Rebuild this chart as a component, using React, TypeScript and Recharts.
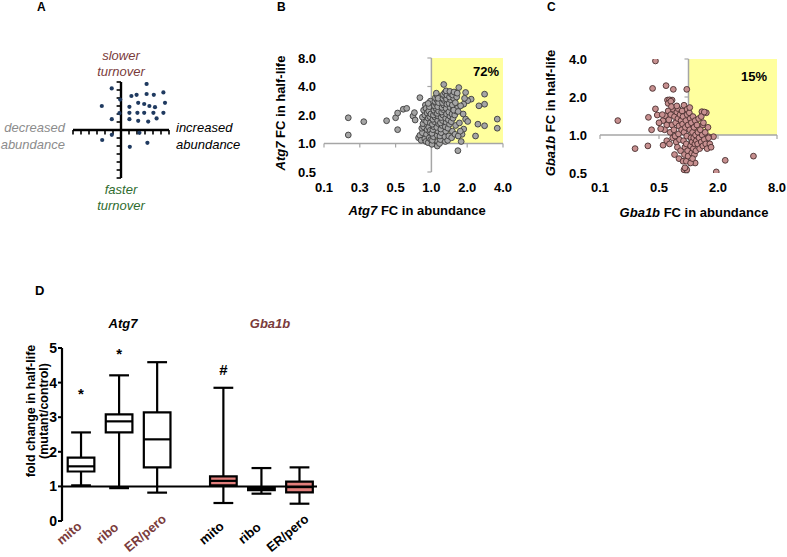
import React from 'react';
import { ScatterChart, Scatter, XAxis, YAxis, ReferenceLine, ReferenceArea, Label, Text } from 'recharts';

const FONT = "Arial, 'Liberation Sans', Helvetica, sans-serif";
const DARKRED = '#7A3B3B';
const GREEN = '#2E6B2E';
const W = 787;
const H = 557;

// ---------- Panel A (schematic) ----------
const A_POINTS: [number, number][] = [
  [-1.16, 5.2], [3.2, 5.75], [5.3, 4.7], [1.3, 4.25], [1.95, 4.4], [3.2, 4.5], [4.1, 4.4],
  [-0.1, 3.8], [-2.4, 3.0], [1.05, 2.9], [2.15, 3.4], [2.9, 3.25], [3.55, 3.0], [4.25, 2.85],
  [5.5, 3.4], [-0.2, 2.1], [1.05, 2.15], [2.05, 2.15], [2.9, 2.15], [4.05, 2.15], [5.3, 2.15],
  [-1.15, 1.35], [1.05, 1.35], [2.15, 1.15], [3.4, 1.05], [4.45, 1.45], [-2.35, -1.25],
  [-1.15, -0.6], [2.3, -0.35], [1.1, -2.1], [3.3, -1.6],
];
const A_TICKS = [-6, -5, -4, -3, -2, -1, 1, 2, 3, 4, 5, 6];

// ---------- Panel B (Atg7) ----------
const B_X_TICKS = [0.125, 0.25, 0.5, 1, 2, 4];
const B_Y_TICKS = [0.5, 1, 2, 4, 8];
const B_PERCENT = '72%';
const B_POINTS: [number, number][] = [
  [0.2, 1.87], [0.2, 1.23], [0.27, 1.7], [0.42, 1.74], [0.5, 1.87], [0.52, 2.1], [0.52, 1.4],
  [0.58, 2.3], [0.62, 2.35], [0.7, 1.95], [0.72, 2.12], [0.73, 1.77], [0.8, 3.05],
  [0.78, 1.15], [0.8, 1.22], [0.82, 1.08], [0.84, 1.3], [0.83, 1.45], [0.86, 1.5], [0.85, 1.62],
  [0.87, 1.78], [0.84, 1.9], [0.88, 2.0], [0.86, 2.25], [0.89, 2.55], [0.9, 2.35], [0.88, 1.12],
  [0.9, 1.05], [0.91, 1.25], [0.92, 1.4], [0.93, 1.55], [0.91, 1.7], [0.94, 1.85], [0.92, 2.1],
  [0.95, 2.2], [0.94, 1.02], [0.96, 1.15], [0.97, 1.32], [0.95, 1.48], [0.98, 1.65], [0.97, 1.92],
  [0.99, 2.05], [0.96, 2.45], [0.98, 2.8], [0.94, 2.65], [0.99, 1.1], [0.98, 1.38],
  [1.01, 0.98], [1.02, 1.08], [1.04, 1.18], [1.01, 1.28], [1.03, 1.4], [1.05, 1.5], [1.02, 1.6],
  [1.06, 1.7], [1.03, 1.8], [1.07, 1.9], [1.04, 2.0], [1.08, 2.12], [1.05, 2.25], [1.09, 2.35],
  [1.06, 2.5], [1.1, 2.62], [1.07, 2.78], [1.11, 2.9], [1.08, 3.05], [1.12, 3.2], [1.1, 3.4],
  [1.13, 1.05], [1.12, 1.22], [1.14, 1.35], [1.11, 1.48], [1.15, 1.62], [1.13, 1.75], [1.14, 1.95],
  [1.12, 2.08], [1.15, 2.2], [1.13, 2.45], [1.15, 2.7], [1.14, 3.0], [1.12, 0.94],
  [1.17, 1.0], [1.19, 1.1], [1.18, 1.2], [1.21, 1.3], [1.2, 1.42], [1.23, 1.55], [1.19, 1.65],
  [1.24, 1.75], [1.21, 1.88], [1.25, 2.0], [1.22, 2.15], [1.26, 2.28], [1.23, 2.4], [1.27, 2.55],
  [1.24, 2.7], [1.28, 2.85], [1.25, 3.0], [1.29, 3.15], [1.26, 3.3], [1.3, 3.45], [1.27, 4.2],
  [1.31, 1.05], [1.3, 1.18], [1.32, 1.35], [1.31, 1.5], [1.33, 1.68], [1.32, 1.85], [1.34, 2.05],
  [1.33, 2.35], [1.35, 2.6], [1.34, 2.95], [1.35, 3.25], [1.33, 3.6],
  [1.37, 1.08], [1.4, 1.2], [1.38, 1.45], [1.42, 1.6], [1.39, 1.78], [1.43, 1.95], [1.4, 2.15],
  [1.44, 2.4], [1.41, 2.65], [1.45, 2.9], [1.42, 3.1], [1.46, 3.35], [1.43, 3.55], [1.48, 1.15],
  [1.5, 1.35], [1.47, 1.7], [1.52, 1.85], [1.49, 2.05], [1.53, 2.3], [1.5, 2.55], [1.54, 3.0],
  [1.51, 3.25], [1.55, 3.5], [1.58, 1.25], [1.6, 1.55], [1.57, 2.0], [1.62, 2.2], [1.59, 2.7],
  [1.63, 3.1], [1.65, 3.4],
  [1.65, 2.36], [1.54, 2.25], [1.7, 3.9], [1.94, 3.46], [2.8, 3.32], [2.8, 2.6], [2.51, 2.5],
  [2.16, 2.94], [2.02, 2.83], [1.87, 2.6], [1.76, 2.5], [3.58, 1.81], [3.58, 1.45], [2.8, 1.54],
  [2.46, 1.6], [2.35, 1.2], [1.94, 1.81], [2.02, 1.71], [1.87, 1.42], [1.81, 1.25], [1.68, 2.18],
  [1.68, 1.2], [1.67, 0.84], [1.75, 1.35], [1.72, 1.65], [1.85, 2.05], [1.78, 1.05], [1.9, 3.0],
];

// ---------- Panel C (Gba1b) ----------
const C_X_TICKS = [0.125, 0.5, 2, 8];
const C_Y_TICKS = [0.5, 1, 2, 4];
const C_PERCENT = '15%';
const C_POINTS: [number, number][] = [
  [0.46, 3.86], [0.43, 2.34], [0.59, 2.46], [0.7, 2.3], [0.96, 2.3], [0.19, 1.3], [0.39, 1.38],
  [0.46, 1.61], [0.42, 1.1], [0.285, 0.78], [0.385, 0.82], [0.55, 0.83], [0.61, 1.89], [0.64, 1.9],
  [0.68, 1.89], [2.37, 0.63], [4.6, 0.68], [1.92, 0.51], [0.9, 0.53], [0.96, 0.53], [1.17, 0.6],
  [1.8, 0.97], [1.6, 0.97], [1.37, 1.53], [1.4, 1.2], [1.57, 0.81], [0.48, 1.44],
  [0.55, 1.3], [0.58, 1.42], [0.6, 1.2], [0.62, 1.55], [0.57, 1.1], [0.63, 1.32], [0.65, 1.05],
  [0.6, 0.9], [0.66, 1.45], [0.68, 1.2], [0.62, 1.78], [0.66, 1.85], [0.7, 1.6], [0.64, 0.85],
  [0.69, 0.95], [0.52, 1.12], [0.54, 1.45], [0.5, 1.25], [0.67, 1.68],
  [0.72, 1.4], [0.74, 1.25], [0.71, 1.1], [0.76, 1.52], [0.73, 0.98], [0.78, 1.35], [0.75, 0.88],
  [0.8, 1.18], [0.77, 0.8], [0.82, 1.45], [0.79, 1.02], [0.84, 1.3], [0.81, 0.92], [0.83, 0.75],
  [0.78, 1.62], [0.72, 0.7], [0.85, 1.1], [0.76, 1.7], [0.8, 0.65],
  [0.86, 1.55], [0.88, 1.4], [0.87, 1.22], [0.9, 1.05], [0.89, 0.9], [0.92, 0.8], [0.91, 0.7],
  [0.94, 1.3], [0.93, 1.15], [0.96, 0.98], [0.95, 0.85], [0.98, 0.75], [0.97, 1.45], [0.99, 1.2],
  [0.88, 0.62], [0.92, 0.55], [0.95, 0.62], [0.99, 0.68], [0.9, 1.72], [0.97, 1.6],
  [1.02, 1.5], [1.04, 1.35], [1.03, 1.1], [1.06, 0.95], [1.05, 0.82], [1.08, 0.72], [1.07, 1.25],
  [1.1, 1.05], [1.09, 0.88], [1.12, 0.78], [1.11, 1.4], [1.14, 1.15], [1.13, 0.95], [1.16, 0.85],
  [1.15, 0.7], [1.18, 1.0], [1.17, 1.3], [1.2, 0.9], [1.19, 0.75], [1.05, 0.6], [1.1, 0.65],
  [1.03, 1.65],
  [1.22, 1.2], [1.25, 1.05], [1.24, 0.85], [1.28, 0.95], [1.3, 0.78], [1.27, 1.35], [1.32, 1.1],
  [1.35, 0.88], [1.38, 1.0], [1.4, 0.82], [1.45, 0.92], [1.42, 1.25], [1.5, 0.85], [1.48, 1.05],
  [1.55, 0.78], [1.52, 1.5], [1.6, 0.95], [1.65, 0.85], [1.7, 0.8], [1.35, 1.4], [1.45, 1.52],
  [1.58, 1.15],
];

// ---------- Panel D (box plots) ----------
const D_POS = [1, 2, 3, 4.74, 5.74, 6.74];
const D_LABELS = ['mito', 'ribo', 'ER/pero', 'mito', 'ribo', 'ER/pero'];
const D_GROUP = ['Atg7', 'Atg7', 'Atg7', 'Gba1b', 'Gba1b', 'Gba1b'];
const D_MIN = [1.03, 0.95, 0.82, 0.52, 0.79, 0.5];
const D_Q1 = [1.43, 2.56, 1.55, 1.03, 0.89, 0.83];
const D_MED = [1.58, 2.88, 2.36, 1.16, 0.93, 0.98];
const D_Q3 = [1.83, 3.08, 3.14, 1.29, 0.97, 1.14];
const D_MAX = [2.56, 4.21, 4.59, 3.85, 1.53, 1.55];
const D_MARK = ['*', '*', '*', '#', '', ''];
const D_MARK_Y = [3.8, 4.93, 5.2, 4.38, 0, 0];
const D_Y_TICKS = [0, 1, 2, 3, 4, 5];

const toObj = (arr: [number, number][]) => arr.map(([x, y]) => ({ x, y }));
const fmt1 = (v: number) => v.toFixed(1);

const dot = (r: number, fill: string, stroke?: string) => (props: any) => {
  const { cx, cy } = props;
  if (cx == null || cy == null) return <g />;
  return <circle cx={cx} cy={cy} r={r} fill={fill} stroke={stroke || 'none'} strokeWidth={stroke ? 0.9 : 0} />;
};

const tickStyle = { fontSize: 13, fontWeight: 700, fill: '#000', fontFamily: FONT };

const Txt: React.FC<{ x: number; y: number; anchor?: 'start' | 'middle' | 'end'; size?: number; lh?: number; color?: string; bold?: boolean; italic?: boolean; children: React.ReactNode }> = ({ x, y, anchor = 'middle', size = 13, lh, color = '#000', bold = false, italic = false, children }) => {
  const tx = anchor === 'middle' ? '-50%' : anchor === 'end' ? '-100%' : '0';
  return (
    <div
      style={{
        position: 'absolute', left: x, top: y, whiteSpace: 'nowrap',
        transform: `translate(${tx}, -50%)`,
        fontFamily: FONT, fontSize: size, lineHeight: `${lh || size}px`, color,
        fontWeight: bold ? 700 : 400, fontStyle: italic ? 'italic' : 'normal',
        textAlign: anchor === 'middle' ? 'center' : anchor === 'end' ? 'right' : 'left',
      }}
    >
      {children}
    </div>
  );
};

const RotTxt: React.FC<{ x: number; y: number; size?: number; children: React.ReactNode }> = ({ x, y, size = 13, children }) => (
  <div
    style={{
      position: 'absolute', left: x, top: y, whiteSpace: 'nowrap',
      transform: 'translate(-50%, -50%) rotate(-90deg)',
      fontFamily: FONT, fontSize: size, lineHeight: `${size + 2}px`, fontWeight: 700, textAlign: 'center', color: '#000',
    }}
  >
    {children}
  </div>
);

// category tick for panel D, rotated with Recharts' own Text angle, centred just left of the tick
const renderDTick = (props: any) => {
  const { x, y, payload } = props;
  const i = D_POS.indexOf(payload.value);
  if (i < 0) return <g />;
  return (
    <Text x={x - 12} y={y + 4} angle={-40} textAnchor="middle" verticalAnchor="middle"
      fontSize={13} fontWeight={700} fontFamily={FONT} fill={D_GROUP[i] === 'Atg7' ? DARKRED : '#000'}>
      {D_LABELS[i]}
    </Text>
  );
};

const markShape = (props: any) => {
  const { cx, cy, payload } = props;
  if (cx == null || cy == null) return <g />;
  return (
    <text x={cx} y={cy} dy={payload.mark === '*' ? 9 : 5.4} textAnchor="middle" fontSize={15} fontWeight={700} fontFamily={FONT} fill="#000">
      {payload.mark}
    </text>
  );
};

const abs: React.CSSProperties = { position: 'absolute', left: 0, top: 0 };

export default function App() {
  const aData = toObj(A_POINTS);
  const bData = toObj(B_POINTS);
  const cData = toObj(C_POINTS);
  const dMarks = D_POS.map((p, i) => ({ x: p, y: D_MARK_Y[i], mark: D_MARK[i] })).filter((d) => d.mark);
  const CAP = 0.26;
  const BOX = 0.35;
  const bx = '#000';

  return (
    <div style={{ position: 'absolute', left: 0, top: 0, width: W, height: H, background: '#fff', fontFamily: FONT, overflow: 'hidden' }}>
      {/* Panel A */}
      <div style={abs}>
        <ScatterChart width={W} height={H} margin={{ top: 82, right: W - 169, bottom: H - 178, left: 73 }}>
          <XAxis type="number" dataKey="x" domain={[-6, 6]} hide allowDataOverflow />
          <YAxis type="number" dataKey="y" domain={[-6, 6]} hide allowDataOverflow />
          <ReferenceLine x={0} stroke="#000" strokeWidth={2.4} />
          <ReferenceLine y={0} stroke="#000" strokeWidth={2.4} />
          {A_TICKS.map((t) => (
            <ReferenceLine key={'ax' + t} segment={[{ x: t, y: 0 }, { x: t, y: -0.55 }]} stroke="#000" strokeWidth={1.6} />
          ))}
          {A_TICKS.map((t) => (
            <ReferenceLine key={'ay' + t} segment={[{ x: 0, y: t }, { x: -0.55, y: t }]} stroke="#000" strokeWidth={1.6} />
          ))}
          <Scatter data={aData} shape={dot(2.1, '#1F3A60')} isAnimationActive={false} />
        </ScatterChart>
      </div>

      {/* Panel B */}
      <div style={abs}>
        <ScatterChart width={W} height={H} margin={{ top: 58, right: W - 503, bottom: H - 172 - 30, left: 324 - 40 }}>
          <XAxis type="number" dataKey="x" scale="log" domain={[0.125, 4]} ticks={B_X_TICKS} interval={0}
            tickFormatter={fmt1} axisLine={false} tickLine={false} tick={tickStyle} tickMargin={5} height={30} allowDataOverflow />
          <YAxis type="number" dataKey="y" scale="log" domain={[0.5, 8]} ticks={B_Y_TICKS} interval={0}
            tickFormatter={fmt1} axisLine={false} tickLine={false} tick={tickStyle} tickMargin={2} width={40} allowDataOverflow />
          <ReferenceArea x1={1} x2={4} y1={1} y2={8} fill="#FFFF9E" fillOpacity={1} stroke="none">
            <Label value={B_PERCENT} position="insideTopRight" offset={4} dy={5} fontSize={13} fontWeight={700} fill="#000" fontFamily={FONT} />
          </ReferenceArea>
          <ReferenceLine y={1} stroke="#A6A6A6" strokeWidth={1.5} />
          <ReferenceLine x={1} stroke="#A6A6A6" strokeWidth={1.5} />
          {B_X_TICKS.map((t) => (
            <ReferenceLine key={'bx' + t} segment={[{ x: t, y: 1 }, { x: t, y: 0.91 }]} stroke="#A6A6A6" strokeWidth={1.2} />
          ))}
          {B_Y_TICKS.map((t) => (
            <ReferenceLine key={'by' + t} segment={[{ x: 1, y: t }, { x: 0.925, y: t }]} stroke="#A6A6A6" strokeWidth={1.2} />
          ))}
          <Scatter data={bData} shape={dot(2.9, '#A5A5A5', '#3C3C3C')} isAnimationActive={false} />
        </ScatterChart>
      </div>

      {/* Panel C */}
      <div style={abs}>
        <ScatterChart width={W} height={H} margin={{ top: 59, right: W - 777, bottom: H - 173 - 30, left: 600 - 40 }}>
          <XAxis type="number" dataKey="x" scale="log" domain={[0.125, 8]} ticks={C_X_TICKS} interval={0}
            tickFormatter={fmt1} axisLine={false} tickLine={false} tick={tickStyle} tickMargin={4} height={30} allowDataOverflow />
          <YAxis type="number" dataKey="y" scale="log" domain={[0.5, 4]} ticks={C_Y_TICKS} interval={0}
            tickFormatter={fmt1} axisLine={false} tickLine={false} tick={tickStyle} tickMargin={7} width={40} allowDataOverflow />
          <ReferenceArea x1={1} x2={8} y1={1} y2={4} fill="#FFFF9E" fillOpacity={1} stroke="none">
            <Label value={C_PERCENT} position="insideTopRight" offset={10} dy={3} fontSize={13} fontWeight={700} fill="#000" fontFamily={FONT} />
          </ReferenceArea>
          <ReferenceLine y={1} stroke="#A6A6A6" strokeWidth={1.5} />
          <ReferenceLine x={1} stroke="#A6A6A6" strokeWidth={1.5} />
          {C_X_TICKS.map((t) => (
            <ReferenceLine key={'cx' + t} segment={[{ x: t, y: 1 }, { x: t, y: 0.93 }]} stroke="#A6A6A6" strokeWidth={1.2} />
          ))}
          {C_Y_TICKS.map((t) => (
            <ReferenceLine key={'cy' + t} segment={[{ x: 1, y: t }, { x: 0.91, y: t }]} stroke="#A6A6A6" strokeWidth={1.2} />
          ))}
          <Scatter data={cData} shape={dot(2.9, '#C79090', '#4A2F2F')} isAnimationActive={false} />
        </ScatterChart>
      </div>

      {/* Panel D */}
      <div style={abs}>
        <ScatterChart width={W} height={H} margin={{ top: 348, right: W - 317, bottom: H - 521 - 30, left: 62 - 30 }}>
          <XAxis type="number" dataKey="x" domain={[0.5, 7.2]} ticks={D_POS} interval={0} tick={renderDTick}
            axisLine={false} tickLine={false} height={30} allowDataOverflow />
          <YAxis type="number" dataKey="y" domain={[0, 5]} ticks={D_Y_TICKS} interval={0} width={30}
            axisLine={{ stroke: '#000', strokeWidth: 2.2 }} tickLine={{ stroke: '#000', strokeWidth: 2 }} tickSize={4} tickMargin={1}
            tick={{ ...tickStyle, fontSize: 14 }} allowDataOverflow />
          <ReferenceLine y={1} stroke="#000" strokeWidth={2} />
          {D_POS.map((p, i) => (
            <ReferenceLine key={'wl' + i} segment={[{ x: p, y: D_MIN[i] }, { x: p, y: D_Q1[i] }]} stroke={bx} strokeWidth={2.2} />
          ))}
          {D_POS.map((p, i) => (
            <ReferenceLine key={'wh' + i} segment={[{ x: p, y: D_Q3[i] }, { x: p, y: D_MAX[i] }]} stroke={bx} strokeWidth={2.2} />
          ))}
          {D_POS.map((p, i) => (
            <ReferenceLine key={'cl' + i} segment={[{ x: p - CAP, y: D_MIN[i] }, { x: p + CAP, y: D_MIN[i] }]} stroke={bx} strokeWidth={2.2} />
          ))}
          {D_POS.map((p, i) => (
            <ReferenceLine key={'ch' + i} segment={[{ x: p - CAP, y: D_MAX[i] }, { x: p + CAP, y: D_MAX[i] }]} stroke={bx} strokeWidth={2.2} />
          ))}
          {D_POS.map((p, i) => (
            <ReferenceArea key={'bx' + i} x1={p - BOX} x2={p + BOX} y1={D_Q1[i]} y2={D_Q3[i]}
              fill={D_GROUP[i] === 'Atg7' ? '#FFFFFF' : '#E27F7C'} fillOpacity={1} stroke={bx} strokeWidth={2.2} />
          ))}
          {D_POS.map((p, i) => (
            <ReferenceLine key={'md' + i} segment={[{ x: p - BOX, y: D_MED[i] }, { x: p + BOX, y: D_MED[i] }]} stroke={bx} strokeWidth={2.2} />
          ))}
          <Scatter data={dMarks} shape={markShape} isAnimationActive={false} />
        </ScatterChart>
      </div>

      {/* Panel letters */}
      <Txt x={37} y={7} anchor="start" size={12} bold>A</Txt>
      <Txt x={277} y={7} anchor="start" size={12} bold>B</Txt>
      <Txt x={547} y={7} anchor="start" size={12} bold>C</Txt>
      <Txt x={35} y={290} anchor="start" size={13} bold>D</Txt>

      {/* Panel A texts */}
      <Txt x={121} y={63.5} size={13} lh={16.5} color={DARKRED} italic>slower<br />turnover</Txt>
      <Txt x={65} y={136} anchor="end" size={13} lh={16.5} color="#8C8C8C" italic>decreased<br />abundance</Txt>
      <Txt x={176} y={136} anchor="start" size={13} lh={16.5} color="#000" italic>increased<br />abundance</Txt>
      <Txt x={121} y={197.5} size={13} lh={16} color={GREEN} italic>faster<br />turnover</Txt>

      {/* Panel B titles */}
      <RotTxt x={280} y={113}><i>Atg7</i> FC in half-life</RotTxt>
      <Txt x={417} y={210} bold><i>Atg7</i> FC in abundance</Txt>

      {/* Panel C titles */}
      <RotTxt x={550} y={113}><i>Gba1b</i> FC in half-life</RotTxt>
      <Txt x={694} y={212} bold><i>Gba1b</i> FC in abundance</Txt>

      {/* Panel D titles */}
      <Txt x={123} y={323} bold italic>Atg7</Txt>
      <Txt x={270} y={323} bold italic color={DARKRED}>Gba1b</Txt>
      <RotTxt x={31} y={411} size={12.5}>fold change in half-life</RotTxt>
      <RotTxt x={44} y={411} size={12.5}>(mutant/control)</RotTxt>
    </div>
  );
}
